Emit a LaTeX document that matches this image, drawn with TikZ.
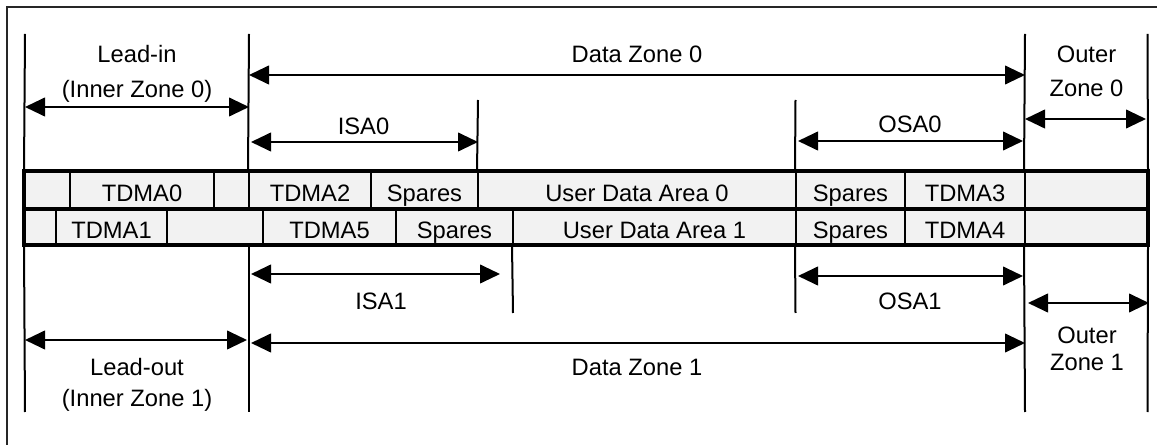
\documentclass[tikz,border=0pt]{standalone}
\usepackage{fontspec}
\setmainfont{Liberation Sans}
\usetikzlibrary{arrows.meta}
\definecolor{cellgray}{HTML}{F2F2F2}
\tikzset{
  zoneline/.style={line width=1.5pt},
  tableline/.style={line width=2.5pt, line cap=rect},
  span/.style={line width=1.5pt,
    {Triangle[length=15pt,width=14pt]}-{Triangle[length=15pt,width=14pt]}},
  cell/.style={draw, line width=1.5pt, fill=cellgray, inner sep=0pt,
    minimum height=27pt, text height=17.3pt, text depth=0pt},
  lbl/.style={anchor=base, inner sep=0pt},
}
\begin{document}
\begin{tikzpicture}[x=0.75pt, y=-0.75pt, font=\fontsize{17.8pt}{21pt}\selectfont]
\useasboundingbox (0,0) rectangle (1157,445);

% frame
\draw[line width=1.1pt, black!85] (7,445) -- (7,7) -- (1157,7);

% layer 0 and layer 1 rows
\foreach \a/\b/\t [count=\i] in {25/70/{}, 70/214/TDMA0, 214/249/{}, 249/371/TDMA2,
    371/478/Spares, 478/796/User Data Area 0, 796/905/Spares, 905/1025/TDMA3, 1025/1147/{}}
  \node[cell, minimum width={(\b-\a)*0.75pt}] (u\i) at ({(\a+\b)/2},190) {\t};
\foreach \a/\b/\t [count=\i] in {25/56/{}, 56/167/TDMA1, 167/263/{}, 263/396/TDMA5,
    396/513/Spares, 513/796/User Data Area 1, 796/905/Spares, 905/1025/TDMA4, 1025/1147/{}}
  \node[cell, minimum width={(\b-\a)*0.75pt}] (l\i) at ({(\a+\b)/2},226.5) {\t};

% heavy outline of the two rows
\draw[tableline] (u1.north west) -- (u9.north east) -- (l9.south east)
  -- (l1.south west) -- cycle;
\draw[tableline] (u1.south west) -- (u9.south east);

% zone boundaries above the rows
\coordinate (ta) at (25,34);
\coordinate (tb) at (249,34);
\coordinate (tc) at (478,100);
\coordinate (td) at (795.5,100);
\coordinate (te) at (1025,34);
\coordinate (tf) at (1147.5,34);
\draw[zoneline] (ta) -- (u1.north west);
\draw[zoneline] (tb) -- (u4.north west);
\draw[zoneline] (tc) -- (u6.north west);
\draw[zoneline] (td) -- (u7.north west);
\draw[zoneline] (te) -- (u9.north west);
\draw[zoneline] (tf) -- (u9.north east);

% zone boundaries below the rows
\coordinate (ba) at (25,412);
\coordinate (bb) at (249,412);
\coordinate (bc) at (513,313);
\coordinate (bd) at (795.5,313);
\coordinate (be) at (1025,412);
\coordinate (bf) at (1147.5,412);
\draw[zoneline] (l1.south west) -- (ba);
\draw[zoneline] (l1.south west -| bb) -- (bb);
\draw[zoneline] (l6.south west) -- (bc);
\draw[zoneline] (l7.south west) -- (bd);
\draw[zoneline] (l9.south west) -- (be);
\draw[zoneline] (l9.south east) -- (bf);

% spans of layer 0
\coordinate (li0a) at (25,107);   \coordinate (li0b) at (249,107);
\coordinate (dz0a) at (249,75);   \coordinate (dz0b) at (1025,75);
\coordinate (is0a) at (251,142);  \coordinate (is0b) at (478,142);
\coordinate (os0a) at (798,141);  \coordinate (os0b) at (1023,141);
\coordinate (oz0a) at (1025,119); \coordinate (oz0b) at (1146,119);
\draw[span] (li0a) -- (li0b);
\draw[span] (dz0a) -- (dz0b);
\draw[span] (is0a) -- (is0b);
\draw[span] (os0a) -- (os0b);
\draw[span] (oz0a) -- (oz0b);

% spans of layer 1
\coordinate (is1a) at (251,274);  \coordinate (is1b) at (500,274);
\coordinate (os1a) at (798,276);  \coordinate (os1b) at (1023,276);
\coordinate (oz1a) at (1028,303); \coordinate (oz1b) at (1149,303);
\coordinate (lo1a) at (25,340);   \coordinate (lo1b) at (247,340);
\coordinate (dz1a) at (251,343);  \coordinate (dz1b) at (1025,343);
\draw[span] (is1a) -- (is1b);
\draw[span] (os1a) -- (os1b);
\draw[span] (oz1a) -- (oz1b);
\draw[span] (lo1a) -- (lo1b);
\draw[span] (dz1a) -- (dz1b);

% labels, layer 0
\node[lbl] (leadin)  at (137,63)   {Lead-in};
\node[lbl] (inner0)  at (137,98)   {(Inner Zone 0)};
\node[lbl] (dz0)     at (637,62.5) {Data Zone 0};
\node[lbl] (isa0)    at (363.5,135) {ISA0};
\node[lbl] (osa0)    at (910,133)  {OSA0};
\node[lbl] (outer0)  at (1086.5,63) {Outer};
\node[lbl] (ozone0)  at (1086.5,97) {Zone 0};

% labels, layer 1
\node[lbl] (isa1)    at (381,309.5) {ISA1};
\node[lbl] (osa1)    at (910,309.5) {OSA1};
\node[lbl] (outer1)  at (1087,344)  {Outer};
\node[lbl] (ozone1)  at (1087,370)  {Zone 1};
\node[lbl] (leadout) at (137,375)   {Lead-out};
\node[lbl] (inner1)  at (137,406.5) {(Inner Zone 1)};
\node[lbl] (dz1)     at (637,375)   {Data Zone 1};
\end{tikzpicture}
\end{document}
